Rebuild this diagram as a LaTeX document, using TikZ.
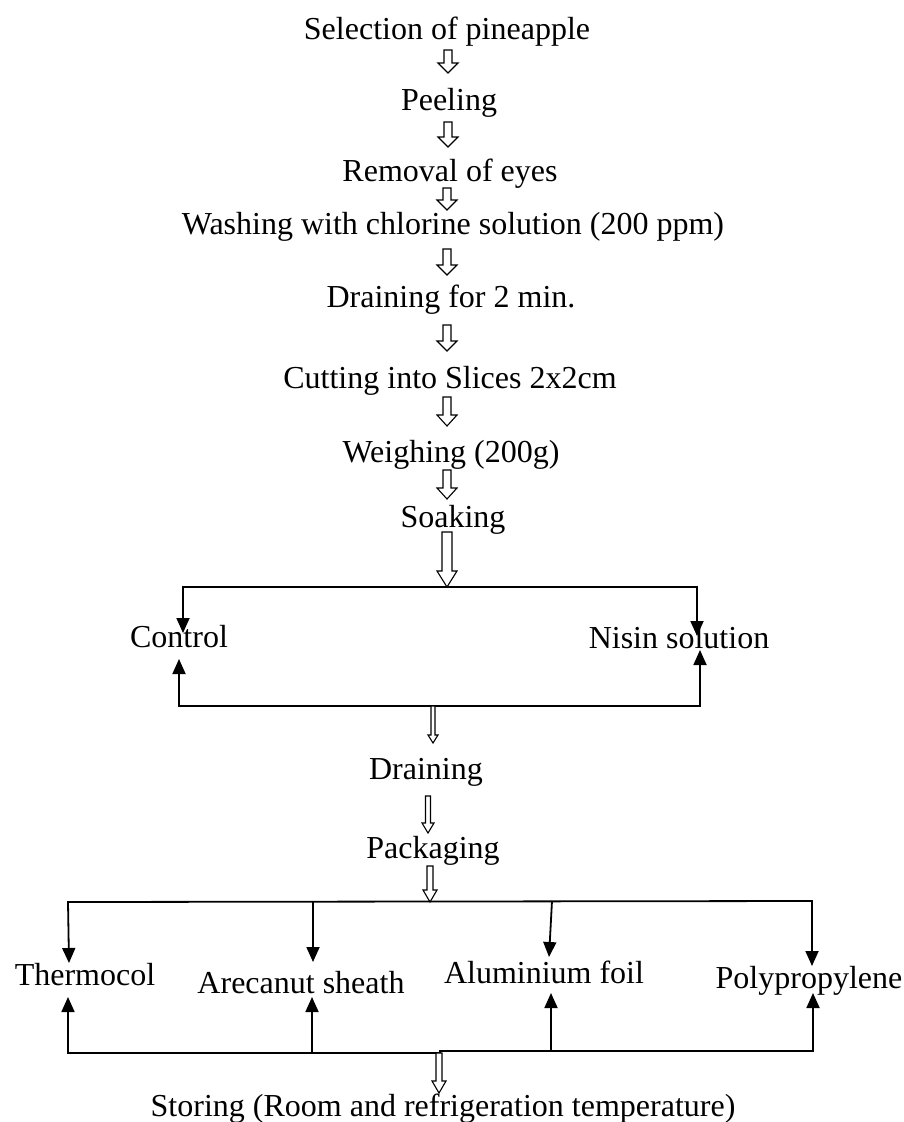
\documentclass[tikz,border=0pt]{standalone}
\usepackage{fontspec}
\setmainfont{Liberation Serif}
\usetikzlibrary{arrows.meta}
\newcommand{\hollowarrow}[6]{% x, ytop, ybot, shaft width, head width, head length
  \draw[hol] ({#1-#4/2},#2) -- ({#1-#4/2},{#3-#6}) -- ({#1-#5/2},{#3-#6}) -- (#1,#3)
    -- ({#1+#5/2},{#3-#6}) -- ({#1+#4/2},{#3-#6}) -- ({#1+#4/2},#2) -- cycle;}
\tikzset{
  lbl/.style={anchor=base, inner sep=0pt, font=\fontsize{32}{38}\selectfont},
  br/.style={line width=1.8pt, line cap=rect},
  sarr/.style={line width=1.8pt, -{Triangle[length=15pt,width=13pt]}},
  hol/.style={draw, line width=1.1pt, fill=white, line join=miter}
}
\begin{document}
\begin{tikzpicture}[x=1pt,y=-1pt]
\useasboundingbox (0,0) rectangle (904,1122);
% main chain
\node[lbl] (sel)  at (447,39)  {Selection of pineapple};
\node[lbl] (peel) at (449,110) {Peeling};
\node[lbl] (rem)  at (450,181) {Removal of eyes};
\node[lbl] (wash) at (453,234) {Washing with chlorine solution (200 ppm)};
\node[lbl] (dr2)  at (451,307) {Draining for 2 min.};
\node[lbl] (cut)  at (450,388) {Cutting into Slices 2x2cm};
\node[lbl] (wei)  at (451,462) {Weighing (200g)};
\node[lbl] (soak) at (453,527) {Soaking};
\hollowarrow{448}{50}{73}{8}{20}{10}
\hollowarrow{448}{122}{147}{8}{20}{10}
\hollowarrow{447}{188}{210}{8}{20}{10}
\hollowarrow{447}{249}{275}{8}{20}{10}
\hollowarrow{447}{325}{351}{8}{20}{10}
\hollowarrow{447}{397}{426}{8}{20}{11}
\hollowarrow{447}{470}{499}{8}{20}{11}
\hollowarrow{447}{532}{587}{10}{20}{16}
% soaking branches
\node[lbl] (ctrl)  at (179,647) {Control};
\node[lbl] (nisin) at (679,648) {Nisin solution};
\coordinate (sTL) at (183,587);
\coordinate (sTR) at (697,587);
\coordinate (sBL) at (179,706);
\coordinate (sBR) at (700,706);
\coordinate (cIn) at (183,633);
\coordinate (cOut) at (179,659);
\coordinate (nIn) at (697,636);
\coordinate (nOut) at (700,650);
\draw[br] (sTL) -- (sTR);
\draw[sarr] (sTL) -- (cIn);
\draw[sarr] (sTR) -- (nIn);
\draw[br] (sBL) -- (sBR);
\draw[sarr] (sBL) -- (cOut);
\draw[sarr] (sBR) -- (nOut);
\hollowarrow{433}{706}{743}{4}{10}{8}
\node[lbl] (drain) at (426,779) {Draining};
\hollowarrow{428}{796}{833}{5}{12}{10}
\node[lbl] (pack) at (433,858) {Packaging};
\hollowarrow{430}{866}{902}{6}{14}{12}
% packaging branches
\node[lbl] (thermo) at (85,985)  {Thermocol};
\node[lbl] (areca)  at (301,993) {Arecanut sheath};
\node[lbl] (alu)    at (544,983) {Aluminium foil};
\node[lbl] (poly)   at (809,988) {Polypropylene};
\coordinate (pT1) at (68,902);
\coordinate (pT2) at (313,902);
\coordinate (pT3) at (552,901);
\coordinate (pT4) at (812,901);
\coordinate (pI1) at (69,963);
\coordinate (pI2) at (313,962);
\coordinate (pI3) at (549,957);
\coordinate (pI4) at (812,966);
\draw[br] (pT1) -- (pT4);
\draw[sarr] (pT1) -- (pI1);
\draw[sarr] (pT2) -- (pI2);
\draw[sarr] (pT3) -- (pI3);
\draw[sarr] (pT4) -- (pI4);
\coordinate (pB1) at (68,1053);
\coordinate (pBm) at (440,1053);
\coordinate (pBn) at (440,1051);
\coordinate (pB4) at (813,1051);
\coordinate (pO1) at (68,997);
\coordinate (pO2) at (312,997);
\coordinate (pO3) at (551,993);
\coordinate (pO4) at (813,993);
\draw[br] (pB1) -- (pBm);
\draw[br] (pBn) -- (pB4);
\draw[sarr] (pB1) -- (pO1);
\draw[sarr] (312,1053) -- (pO2);
\draw[sarr] (551,1051) -- (pO3);
\draw[sarr] (pB4) -- (pO4);
\hollowarrow{439}{1053}{1093}{6}{14}{12}
\node[lbl] (store) at (443,1116) {Storing (Room and refrigeration temperature)};
\end{tikzpicture}
\end{document}
